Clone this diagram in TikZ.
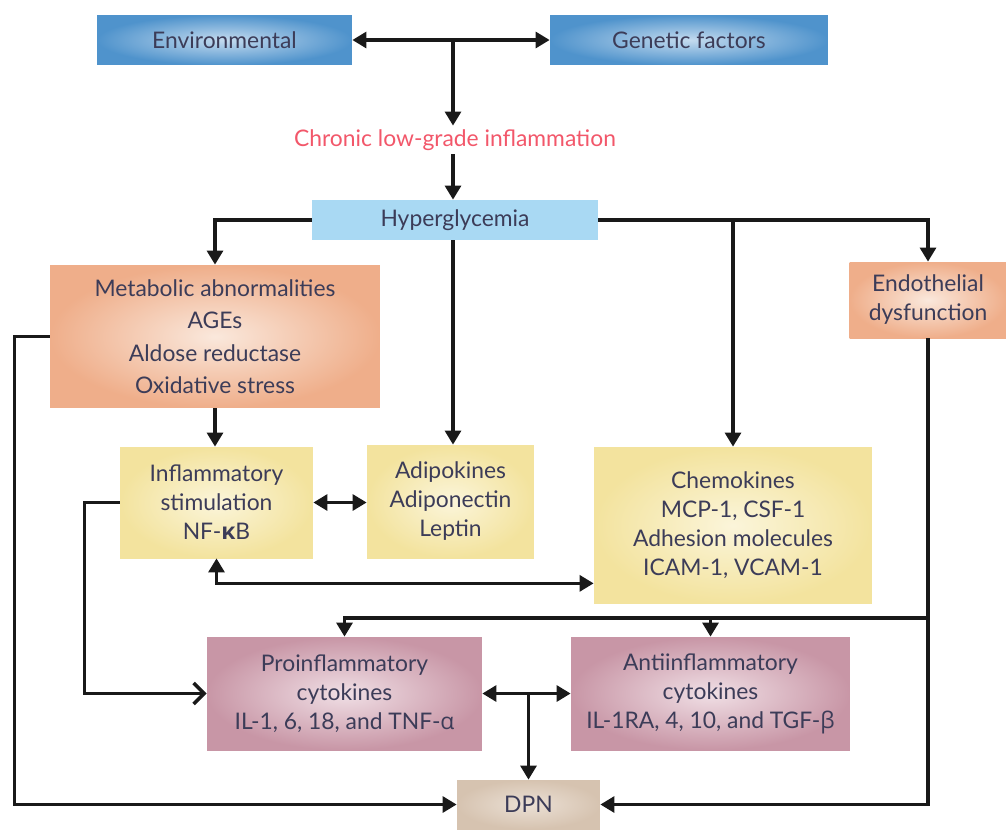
\documentclass[tikz,border=0pt]{standalone}
\usepackage{fontspec}
\setmainfont{Lato}
\newfontfamily\greekfont{Open Sans}
\usetikzlibrary{arrows.meta}

\definecolor{txtgray}{HTML}{3C3C58}
\definecolor{envblue}{HTML}{4F93CC}
\definecolor{envlight}{HTML}{C4DBEF}
\definecolor{hypblue}{HTML}{A9D9F3}
\definecolor{salmon}{HTML}{EFAE8A}
\definecolor{salmonlight}{HTML}{FAE8DC}
\definecolor{sand}{HTML}{F3E39E}
\definecolor{sandlight}{HTML}{FBF5DA}
\definecolor{mauve}{HTML}{C896A6}
\definecolor{mauvelight}{HTML}{F0DFE5}
\definecolor{dpntan}{HTML}{D6C3B0}
\definecolor{dpnlight}{HTML}{EBE0D5}
\definecolor{chronred}{HTML}{F2576A}

\begin{document}
\begin{tikzpicture}[
        x=0.02cm, y=-0.02cm,
        box/.style={rectangle, align=center, text=txtgray, inner sep=2pt,
            font=\fontsize{13}{16.5}\selectfont},
        bluebox/.style={box, shading=radial, inner color=envlight, outer color=envblue,
            minimum height=1cm},
        salmonbox/.style={box, shading=radial, inner color=salmonlight, outer color=salmon},
        sandbox/.style={box, shading=radial, inner color=sandlight, outer color=sand},
        mauvebox/.style={box, shading=radial, inner color=mauvelight, outer color=mauve},
        link/.style={line width=2pt, draw=black!90},
        >={Triangle[length=8pt,width=9pt]}
    ]
        \useasboundingbox (0,0) rectangle (1006,829);

        \node[bluebox, minimum width=5.1cm] (env) at (224.5,40) {Environmental};
        \node[bluebox, minimum width=5.56cm] (gen) at (689,40) {Genetic factors};
        \node[box, text=chronred] (chron) at (455,140) {Chronic low-grade inflammation};
        \node[box, fill=hypblue, minimum width=5.72cm, minimum height=0.8cm] (hyp) at (455,220) {Hyperglycemia};
        \node[salmonbox, minimum width=6.6cm, minimum height=2.86cm,
            font=\fontsize{13}{18.5}\selectfont] (meta) at (215,336.5)
            {Metabolic abnormalities\\AGEs\\Aldose reductase\\Oxidative stress};
        \node[salmonbox, minimum width=3.14cm, minimum height=1.52cm] (endo) at (928,300)
            {Endothelial\\dysfunction};
        \node[sandbox, minimum width=3.86cm, minimum height=2.22cm] (infl) at (216.5,502.5)
            {Inflammatory\\stimulation\\NF-{\greekfont\bfseries κ}B};
        \node[sandbox, minimum width=3.34cm, minimum height=2.26cm] (adipo) at (450.5,501.5)
            {Adipokines\\Adiponectin\\Leptin};
        \node[sandbox, minimum width=5.56cm, minimum height=3.14cm] (chemo) at (733,525.5)
            {Chemokines\\MCP-1, CSF-1\\Adhesion molecules\\ICAM-1, VCAM-1};
        \node[mauvebox, minimum width=5.5cm, minimum height=2.26cm] (pro) at (344.5,693.5)
            {Proinflammatory\\cytokines\\IL-1, 6, 18, and TNF-{\greekfont α}};
        \node[mauvebox, minimum width=5.58cm, minimum height=2.26cm] (anti) at (710.5,693.5)
            {Antiinflammatory\\cytokines\\IL-1RA, 4, 10, and TGF-{\greekfont β}};
        \node[box, shading=radial, inner color=dpnlight, outer color=dpntan,
            minimum width=2.86cm, minimum height=0.98cm] (dpn) at (528.5,804.5) {DPN};

        \coordinate (top) at (453,40);
        \coordinate (hypright) at (733,218);
        \coordinate (endobranch) at (928,618);

        \draw[link, <->] (env) -- (gen);
        \draw[link, ->] (top) -- (top |- chron.north);
        \draw[link, ->] (chron.south -| top) -- (top |- hyp.north);
        \draw[link, ->] (hyp.west) -| (meta.north);
        \draw[link, ->] (hyp.south -| top) -- (top |- adipo.north);
        \draw[link, ->] (hyp.east) -| (endo.north);
        \draw[link, ->] (hypright) -- (chemo.north);
        \draw[link, ->] (meta.west) -- ++(-35,0) |- (dpn.west);
        \draw[link, ->] (meta.south) -- (meta.south |- infl.north);
        \draw[link, <->] (infl.east) -- (infl.east -| adipo.west);
        \draw[link, -{Straight Barb[length=6pt,width=12pt]}] (infl.west) -- ++(-35,0) |- (pro.west);
        \draw[link, <->] (infl.south) |- ([yshift=0.42cm]chemo.south west);
        \draw[link, ->] (endo.south) |- (dpn.east);
        \draw[link, ->] (endobranch) -| (pro.north);
        \draw[link, ->] (endobranch -| anti.north) -- (anti.north);
        \draw[link, <->] (pro.east) -- (anti.west);
        \draw[link, ->] (pro.east -| dpn.north) -- (dpn.north);
    \end{tikzpicture}
\end{document}
